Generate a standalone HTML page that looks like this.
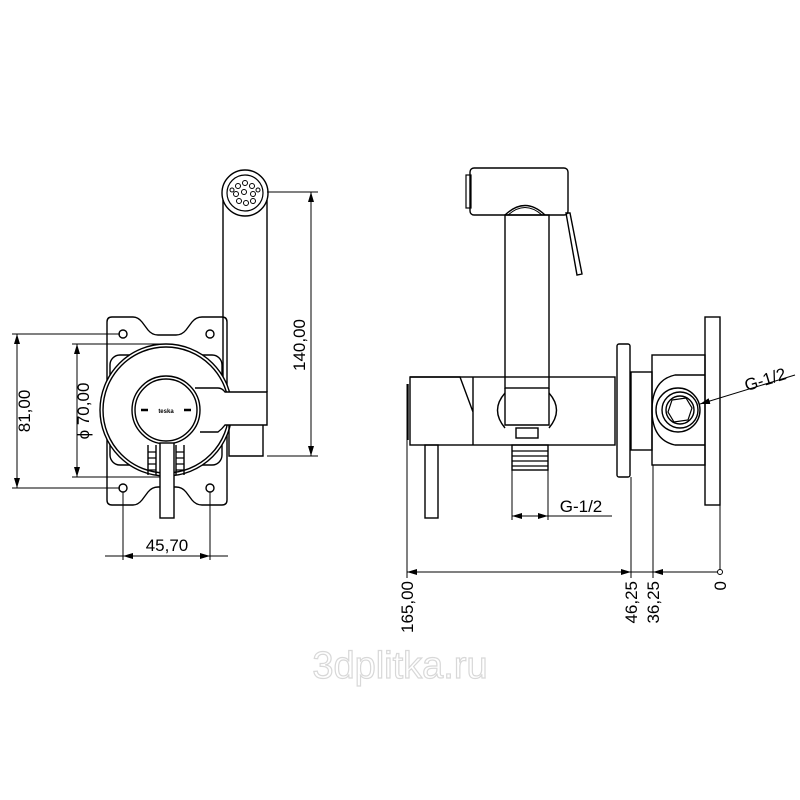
<!DOCTYPE html>
<html><head><meta charset="utf-8"><style>html,body{margin:0;padding:0;background:#fff}svg{display:block}</style></head>
<body>
<svg width="800" height="800" viewBox="0 0 800 800" xmlns="http://www.w3.org/2000/svg" font-family="Liberation Sans, sans-serif">
<defs>
<marker id="a" viewBox="0 0 10 6" refX="10" refY="3" markerWidth="10" markerHeight="6" orient="auto-start-reverse" markerUnits="userSpaceOnUse"><path d="M0,0 L10,3 L0,6 z" fill="#000"/></marker>
</defs>
<g fill="none" stroke="#000" stroke-width="1.4">
<path d="M223,200 L223,392 M267,200 L267,392"/>
<circle cx="245" cy="193" r="23"/>
<circle cx="245" cy="193" r="18" stroke-width="1.2"/>
<g stroke-width="1">
<circle cx="238" cy="186" r="2.5"/><circle cx="245" cy="183" r="2.5"/><circle cx="252" cy="186" r="2.5"/>
<circle cx="236" cy="194" r="2.5"/><circle cx="244" cy="192" r="2.5"/><circle cx="253" cy="194" r="2.5"/>
<circle cx="239" cy="201" r="2.5"/><circle cx="246" cy="203" r="2.5"/><circle cx="253" cy="201" r="2.5"/>
<circle cx="258" cy="190" r="2"/><circle cx="232" cy="190" r="2"/>
</g>
<path d="M112,317 L133,317 Q138,317 142,322 L148,330 Q152,335 158,335 L176,335 Q182,335 186,330 L192,322 Q196,317 202,317 L222,317 Q227,317 227,322 L227,500 Q227,505 222,505 L202,505 Q196,505 192,500 L186,492 Q182,487 176,487 L158,487 Q152,487 148,492 L142,500 Q138,505 133,505 L112,505 Q107,505 107,500 L107,322 Q107,317 112,317 Z"/>
<circle cx="123" cy="334" r="4"/><circle cx="210" cy="334" r="4"/>
<circle cx="123" cy="488" r="4"/><circle cx="210" cy="488" r="4"/>
<rect x="110" y="355" width="112" height="110" rx="10"/>
<circle cx="166" cy="410" r="66" fill="#fff"/>
<circle cx="166" cy="410" r="63"/>
<path d="M195,388 L218,388 Q222,388 225,392 L267,392 L267,425 L225,425 Q222,429 218,432 L200,432" fill="#fff"/>
<path d="M229,425 L229,456 L263,456 L263,425"/>
<circle cx="166" cy="410" r="34" fill="#fff"/>
<circle cx="166" cy="410" r="31"/>
<path d="M141,410 L148,410 M184,410 L191,410" stroke-width="2.5"/>
<path d="M148,445 L148,475 M156,445 L156,475 M176,445 L176,475 M184,445 L184,475"/>
<g stroke-width="1.2"><path d="M148,452 H156 M148,458 H156 M148,464 H156 M148,470 H156 M176,452 H184 M176,458 H184 M176,464 H184 M176,470 H184"/></g>
<rect x="160" y="443" width="14" height="75" fill="#fff"/>

<rect x="470" y="168" width="98" height="47" rx="4"/>
<rect x="466" y="175" width="5" height="33" stroke-width="1.2"/>
<path d="M505,215 Q525,196 545,215"/>
<path d="M508,215 Q525,200 542,215" stroke-width="1"/>
<rect x="505" y="215" width="44" height="173"/>
<path d="M566,213 L570,213 L582,274 L577,275 Z"/>
<rect x="410" y="377" width="205" height="68"/>
<path d="M410,377 L460,377 L473,412 L473,445 M473,377 L473,445" />
<path d="M408,384 L408,440"/>
<path d="M505,388 L505,425 L549,425 L549,388"/>
<path d="M505,393 Q490,410 505,428 M549,393 Q564,410 549,428"/>
<rect x="516" y="428" width="22" height="10"/>
<rect x="512" y="445" width="36" height="25"/>
<path d="M512,451 H548 M512,456 H548 M512,461 H548 M512,466 H548" stroke-width="1.2"/>
<rect x="425" y="445" width="13" height="73"/>
<rect x="617" y="344" width="13" height="133" rx="2"/>
<rect x="631" y="372" width="21" height="78"/>
<rect x="652" y="355" width="53" height="110"/>
<rect x="705" y="317" width="15" height="188"/>
<path d="M705,375 L675,375 Q652,380 652,410 Q652,440 675,445 L705,445"/>
<circle cx="678" cy="410" r="22"/>
<circle cx="680" cy="410" r="18"/>
<circle cx="680" cy="410" r="14"/>
<path d="M672,400 L686,398 L692,408 L688,420 L674,422 L668,412 Z" stroke-width="1.2"/>

<g stroke-width="1">
<path d="M12,334 L120,334 M12,488 L120,488"/>
<path d="M17,334 L17,488" marker-start="url(#a)" marker-end="url(#a)"/>
<path d="M72,344 L166,344 M72,477 L160,477"/>
<path d="M77,344 L77,477" marker-start="url(#a)" marker-end="url(#a)"/>
<path d="M267,192 L318,192 M267,456 L318,456"/>
<path d="M311,192 L311,456" marker-start="url(#a)" marker-end="url(#a)"/>
<path d="M123,492 L123,560 M210,492 L210,560"/>
<path d="M105,556 L123,556 M210,556 L228,556"/>
<path d="M123,556 L210,556" marker-start="url(#a)" marker-end="url(#a)"/>
<path d="M512,470 L512,520 M548,470 L548,520"/>
<path d="M512,516 L548,516" marker-start="url(#a)" marker-end="url(#a)"/>
<path d="M548,516 L612,516"/>
<path d="M795,375 L700,404" marker-end="url(#a)"/>
<path d="M407,384 L407,578 M631,477 L631,578 M653,465 L653,578 M720,505 L720,572"/>
<path d="M407,572 L720,572"/>
<path d="M407,572 L425,572" marker-start="url(#a)"/>
<path d="M613,572 L631,572" marker-end="url(#a)"/>
<path d="M653,572 L671,572" marker-start="url(#a)"/>
<circle cx="720" cy="572" r="2.5" fill="#fff"/>
</g>
</g>
<g font-size="17" fill="#000">
<text transform="translate(30,411) rotate(-90)" text-anchor="middle">81,00</text>
<text transform="translate(89,411) rotate(-90)" text-anchor="middle">ϕ 70,00</text>
<text transform="translate(305,345) rotate(-90)" text-anchor="middle">140,00</text>
<text x="167" y="551" text-anchor="middle">45,70</text>
<text x="581" y="512" text-anchor="middle">G-1/2</text>
<text transform="translate(767,385) rotate(-17)" text-anchor="middle">G-1/2</text>
<text transform="translate(413,581) rotate(-90)" text-anchor="end">165,00</text>
<text transform="translate(637,581) rotate(-90)" text-anchor="end">46,25</text>
<text transform="translate(659,581) rotate(-90)" text-anchor="end">36,25</text>
<text transform="translate(726,581) rotate(-90)" text-anchor="end">0</text>
</g>
<text x="166" y="413" font-size="6" font-weight="bold" text-anchor="middle">teska</text>
<text x="400" y="678" font-size="38" text-anchor="middle" fill="#fff" stroke="#d8d8d8" stroke-width="1.2">3dplitka.ru</text>
</svg>
</body></html>
